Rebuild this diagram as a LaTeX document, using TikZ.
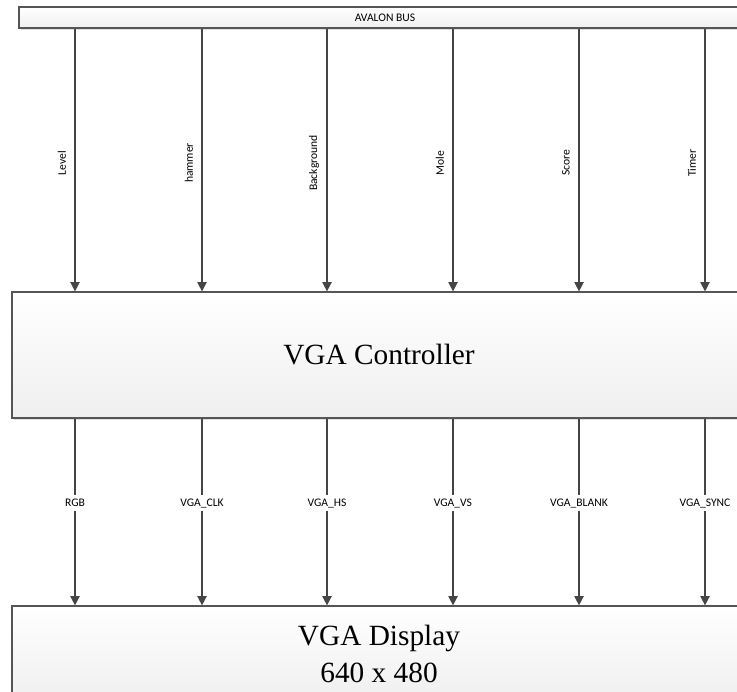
\documentclass[tikz,border=0pt]{standalone}
\usepackage{fontspec}
\setmainfont{Liberation Serif}
\newfontfamily\lblfont{Carlito}
\usetikzlibrary{arrows.meta,shadows}
\definecolor{edgegray}{HTML}{555555}
\definecolor{linegray}{HTML}{454545}
\definecolor{shadegray}{HTML}{EFEFEF}
\begin{document}
\begin{tikzpicture}[x=0.75pt,y=-0.75pt,
  blockbox/.style={draw=edgegray,line width=0.9pt,top color=white,bottom color=shadegray,
    inner sep=0pt,drop shadow={shadow xshift=1.2pt,shadow yshift=-1.2pt,opacity=0.25,fill=gray}},
  sig/.style={draw=linegray,line width=1pt,-{Triangle[length=7pt,width=7pt]}},
  toplbl/.style={font=\lblfont\fontsize{8.7}{10}\selectfont,rotate=90,inner sep=0pt},
  botlbl/.style={font=\lblfont\fontsize{8.7}{10}\selectfont,fill=white,inner sep=1.5pt,
    text height=1.6ex,text depth=0.5ex},
  bigtext/.style={font=\fontsize{22}{27.75}\selectfont,align=center}]
\useasboundingbox (0,0) rectangle (737,691);
\clip (0,0) rectangle (737,691);
\node[blockbox,minimum width=549pt,minimum height=15.75pt,font=\lblfont\fontsize{8.7}{10}\selectfont] (bus) at (385,17.5) {AVALON BUS};
\node[blockbox,minimum width=550.5pt,minimum height=94.5pt] (ctrl) at (379,355) {};
\node[bigtext] (ctrltext) at (379,355) {VGA Controller};
\node[blockbox,minimum width=550.5pt,minimum height=71.25pt] (disp) at (379,653.5) {};
\node[bigtext] (disptext) at (379,653.5) {VGA Display\\640 x 480};
\foreach \xx/\name in {75/Level,202/hammer,327/Background,453/Mole,579/Score,705/Timer}{
  \draw[sig] (bus.south -| \xx,0) -- (ctrl.north -| \xx,0);
  \node[toplbl] (t\name) at (\xx-13,163) {\name};
}
\foreach \xx/\name/\nm in {75/RGB/a,202/VGA\_CLK/b,327/VGA\_HS/c,453/VGA\_VS/d,579/VGA\_BLANK/e,705/VGA\_SYNC/f}{
  \draw[sig] (ctrl.south -| \xx,0) -- (disp.north -| \xx,0);
  \node[botlbl] (b\nm) at (\xx,503) {\name};
}
\end{tikzpicture}
\end{document}
